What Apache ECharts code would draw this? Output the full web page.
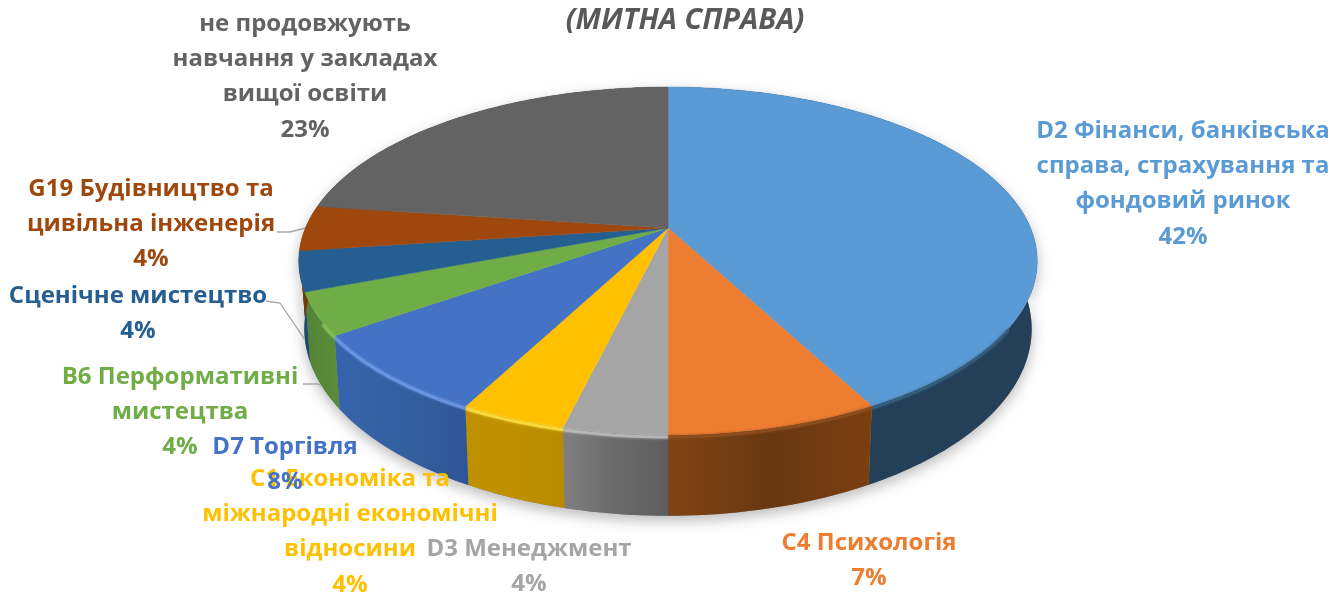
<!DOCTYPE html>
<html><head><meta charset="utf-8">
<style>html,body{margin:0;padding:0;background:#fff}#c{width:1333px;height:594px}</style>
<script src="https://cdn.jsdelivr.net/npm/echarts@6/dist/echarts.min.js"></script>
</head><body><div id="c"></div>
<script>
const titleText = '(МИТНА СПРАВА)';
const categories = [
  'D2 Фінанси, банківська\nсправа, страхування та\nфондовий ринок',
  'C4 Психологія',
  'D3 Менеджмент',
  'C1 Економіка та\nміжнародні економічні\nвідносини',
  'D7 Торгівля',
  'B6 Перформативні\nмистецтва',
  'Сценічне мистецтво',
  'G19 Будівництво та\nцивільна інженерія',
  'не продовжують\nнавчання у закладах\nвищої освіти'
];
// slice sizes
const values = [42.25, 7.75, 3.8, 3.9, 7.6, 3.9, 3.7, 4.2, 22.9];
// percentages as printed on the labels
const printed = ['42%', '7%', '4%', '4%', '8%', '4%', '4%', '4%', '23%'];
const topColors = ['#5b9bd5','#ed7d31','#a5a5a5','#ffc000','#4472c4','#70ad47','#255e91','#9e480e','#636363'];
const wallLeft  = ['#243f58','#7f4413','#7f7f7f','#bf9000','#3763ad','#548235','#1c4a73','#763609','#4a4a4a'];
const wallMid   = ['#243f58','#683813','#6a6a6a','#bf9000','#33609f','#578838','#1c4a73','#763609','#4a4a4a'];
const wallRight = ['#243f58','#7a3f0f','#5e5e5e','#b88a00','#2f5597','#5a8c38','#1c4a73','#763609','#4a4a4a'];
const rimColors = ['#36607f','#8f4d1d','#bdbdbd','#ffe040','#6f9ae8','#84c25a','#2f6ea8','#9e480e','#636363'];

const labelPos = [[1183,131],[869,543],[529,549],[350,479],[285,447],[180,377],[138,296],[151,189],[305,24]];
const leaders = {5:{pts:[[303,384],[318,384]],h:1},6:{pts:[[266,301],[280,303]],h:1},7:{pts:[[277,232],[290,232]],h:0}};
const LINE = 35.3, FONT = '700 24px "Open Sans", sans-serif';

// perspective disc
const cx = 668, cy = 228, R = 362.5, Ry = 167.7, K = 0.1896, D = 65.5;
function project(theta, h) {
  const sx = Math.sin(theta), z = Math.cos(theta), s = 1 / (1 + K * z);
  return [cx + R * sx * s * (1 - 0.015 * h), cy - Ry * z * s + h * D * s];
}
const total = values.reduce((a, b) => a + b, 0);
function arc(t0, t1, h) {
  const n = Math.max(2, Math.ceil((t1 - t0) / 0.02)), out = [];
  for (let i = 0; i <= n; i++) out.push(project(t0 + (t1 - t0) * i / n, h));
  return out;
}
function renderItem(params, api) {
  const i = params.dataIndex;
  let before = 0;
  for (let k = 0; k < i; k++) before += values[k];
  const v = api.value(0);
  const t0 = before / total * 2 * Math.PI, t1 = (before + v) / total * 2 * Math.PI;
  const top = arc(t0, t1, 0), bottom = arc(t0, t1, 1);
  const wall = top.concat(bottom.slice().reverse());
  const grad = new echarts.graphic.LinearGradient(0, 0, 1, 0, [
    {offset: 0, color: wallLeft[i]}, {offset: 0.5, color: wallMid[i]}, {offset: 1, color: wallRight[i]}]);
  const children = [
    {type: 'polygon', z2: 0, shape: {points: wall},
     style: {fill: '#888', shadowBlur: 14, shadowColor: 'rgba(0,0,0,0.28)', shadowOffsetY: 5}},
    {type: 'polygon', z2: 1, shape: {points: wall}, style: {fill: grad}},
    {type: 'polygon', z2: 3, shape: {points: top.concat([[cx, cy]])}, style: {fill: topColors[i], stroke: topColors[i], lineWidth: 0.5}}
  ];
  const f0 = Math.max(t0, Math.PI * 0.68), f1 = Math.min(t1, Math.PI * 1.33);
  if (f1 > f0) {
    children.push({type: 'polyline', z2: 4, shape: {points: arc(f0, f1, 0.025)},
      style: {fill: 'none', stroke: rimColors[i], lineWidth: 3, opacity: 0.8, shadowBlur: 3, shadowColor: rimColors[i]}});
  }
  const lead = leaders[i];
  if (lead) {
    const a = project((t0 + t1) / 2, lead.h);
    children.push({type: 'polyline', z2: 2, shape: {points: lead.pts.concat([a])},
      style: {fill: 'none', stroke: '#a6a6a6', lineWidth: 1.3}});
  }
  const lines = categories[i].split('\n').concat([printed[i]]);
  lines.forEach((t, n) => children.push({type: 'text', z2: 10 + i, style: {
    text: t, x: labelPos[i][0], y: labelPos[i][1] + n * LINE, align: 'center', verticalAlign: 'middle',
    font: FONT, fill: topColors[i]}}));
  return {type: 'group', children};
}
const chart = echarts.init(document.getElementById('c'), null, {renderer: 'canvas'});
chart.setOption({
  animation: false,
  backgroundColor: '#fff',
  title: {text: titleText, left: 680, top: 1, textAlign: 'center',
    textStyle: {fontFamily: '"Open Sans", sans-serif', fontStyle: 'italic', fontWeight: 700, fontSize: 29, color: '#595959'}},
  series: [{type: 'custom', coordinateSystem: 'none', renderItem, silent: true,
    data: values.map(v => [v])}]
});
</script></body></html>
